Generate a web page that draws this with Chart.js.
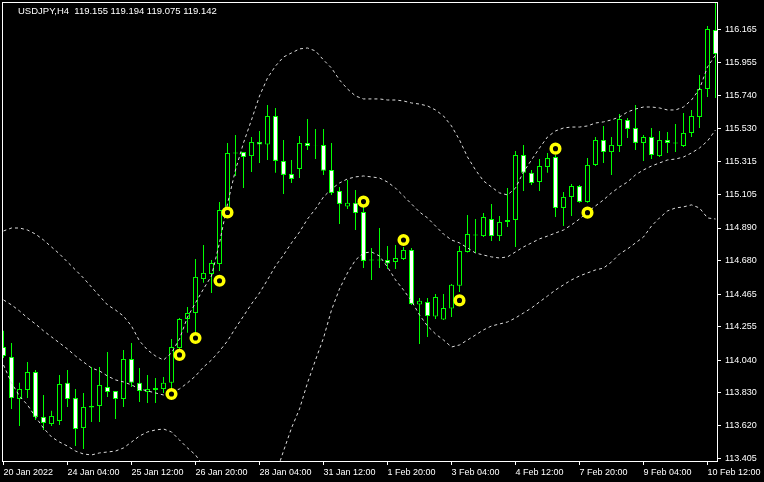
<!DOCTYPE html>
<html>
<head>
<meta charset="utf-8">
<script src="https://cdn.jsdelivr.net/npm/chart.js@4.4.0/dist/chart.umd.min.js"></script>
<style>
  html, body { margin: 0; padding: 0; background: #000; }
  #chart { display: block; }
</style>
</head>
<body>
<canvas id="chart" width="764" height="482"></canvas>
<script>
// header text and axis labels
const titleText = 'USDJPY,H4  119.155 119.194 119.075 119.142';
const xLabels = ['20 Jan 2022', '24 Jan 04:00', '25 Jan 12:00', '26 Jan 20:00', '28 Jan 04:00', '31 Jan 12:00',
    '1 Feb 20:00', '3 Feb 04:00', '4 Feb 12:00', '7 Feb 20:00', '9 Feb 04:00', '10 Feb 12:00'];
const xLabelBars = [0, 8, 16, 24, 32, 40, 48, 56, 64, 72, 80, 88];
const yTicks = [113.405, 113.620, 113.830, 114.040, 114.255, 114.465, 114.680, 114.890,
    115.105, 115.315, 115.530, 115.740, 115.955, 116.165];

// H4 candles, oldest first
const opens = [
    114.124, 114.060, 113.789, 113.847, 113.963, 113.674, 113.628, 113.648, 113.893, 113.795,
    113.602, 113.735, 113.744, 113.867, 113.841, 113.789, 114.047, 113.893, 113.834, 113.847,
    113.854, 113.893, 114.117, 114.304, 114.343, 114.562, 114.594, 114.658, 115.006, 115.369,
    115.379, 115.353, 115.444, 115.428, 115.611, 115.322, 115.238, 115.270, 115.438, 115.422,
    115.425, 115.264, 115.129, 115.029, 115.052, 114.993, 114.681, 114.681, 114.684, 114.671,
    114.691, 114.749, 114.398, 114.414, 114.320, 114.301, 114.372, 114.518, 114.736, 114.842,
    114.838, 114.948, 114.838, 114.929, 114.942, 115.360, 115.245, 115.186, 115.283, 115.347,
    115.019, 115.090, 115.160, 115.058, 115.296, 115.457, 115.379, 115.418, 115.586, 115.534,
    115.438, 115.476, 115.353, 115.457, 115.434, 115.418, 115.502, 115.605, 115.785, 116.165
];
const highs = [
    114.228, 114.150, 113.893, 114.027, 113.976, 113.815, 113.713, 113.944, 113.976, 113.854,
    113.828, 113.995, 113.995, 114.092, 113.841, 114.105, 114.150, 113.988, 113.944, 113.924,
    113.931, 114.176, 114.310, 114.382, 114.691, 114.781, 114.684, 115.058, 115.438, 115.489,
    115.380, 115.476, 115.515, 115.682, 115.662, 115.457, 115.328, 115.482, 115.592, 115.528,
    115.528, 115.438, 115.154, 115.199, 115.135, 115.026, 114.761, 114.890, 114.774, 114.781,
    114.768, 114.762, 114.439, 114.439, 114.465, 114.465, 114.530, 114.774, 114.974, 114.948,
    114.987, 115.045, 114.968, 115.147, 115.386, 115.425, 115.264, 115.334, 115.373, 115.360,
    115.122, 115.173, 115.167, 115.340, 115.476, 115.547, 115.476, 115.624, 115.598, 115.682,
    115.489, 115.534, 115.515, 115.508, 115.560, 115.631, 115.650, 115.875, 116.191, 116.345
];
const lows = [
    114.053, 113.725, 113.615, 113.795, 113.654, 113.590, 113.615, 113.622, 113.738, 113.486,
    113.467, 113.641, 113.641, 113.802, 113.661, 113.738, 113.867, 113.770, 113.764, 113.764,
    113.828, 113.854, 114.111, 114.215, 114.215, 114.537, 114.472, 114.614, 114.993, 115.225,
    115.147, 115.251, 115.309, 115.328, 115.245, 115.109, 115.180, 115.212, 115.392, 115.334,
    115.232, 115.103, 114.916, 115.013, 114.877, 114.632, 114.556, 114.632, 114.626, 114.626,
    114.684, 114.395, 114.143, 114.189, 114.304, 114.298, 114.317, 114.478, 114.733, 114.729,
    114.832, 114.807, 114.807, 114.897, 114.768, 115.129, 115.167, 115.129, 115.245, 114.961,
    114.903, 114.968, 115.052, 115.052, 115.289, 115.309, 115.232, 115.379, 115.470, 115.392,
    115.322, 115.334, 115.347, 115.373, 115.379, 115.412, 115.476, 115.534, 115.733, 115.727
];
const closes = [
    114.066, 113.795, 113.854, 113.963, 113.674, 113.635, 113.680, 113.886, 113.789, 113.596,
    113.738, 113.744, 113.880, 113.834, 113.789, 114.047, 113.893, 113.841, 113.854, 113.860,
    113.893, 114.124, 114.304, 114.343, 114.575, 114.601, 114.665, 115.006, 115.373, 115.376,
    115.347, 115.444, 115.428, 115.611, 115.322, 115.232, 115.206, 115.438, 115.418, 115.425,
    115.258, 115.116, 115.045, 115.052, 114.987, 114.678, 114.688, 114.688, 114.661, 114.697,
    114.749, 114.401, 114.421, 114.323, 114.446, 114.375, 114.524, 114.742, 114.851, 114.848,
    114.961, 114.838, 114.929, 114.942, 115.360, 115.245, 115.180, 115.289, 115.340, 115.019,
    115.090, 115.160, 115.058, 115.296, 115.457, 115.379, 115.425, 115.592, 115.528, 115.438,
    115.476, 115.360, 115.457, 115.438, 115.441, 115.502, 115.611, 115.785, 116.171, 116.010
];

// bollinger bands
const upperBand = [
    114.871, 114.890, 114.890, 114.877, 114.851, 114.813, 114.768, 114.723, 114.671, 114.620,
    114.568, 114.510, 114.452, 114.395, 114.362, 114.323, 114.259, 114.163, 114.105, 114.066,
    114.040, 114.086, 114.176, 114.317, 114.408, 114.498, 114.581, 114.794, 115.045, 115.264,
    115.438, 115.586, 115.740, 115.856, 115.933, 115.991, 116.017, 116.043, 116.049, 116.030,
    115.972, 115.920, 115.843, 115.785, 115.740, 115.721, 115.721, 115.721, 115.714, 115.714,
    115.708, 115.695, 115.688, 115.676, 115.650, 115.611, 115.547, 115.457, 115.347, 115.264,
    115.193, 115.154, 115.116, 115.103, 115.147, 115.251, 115.328, 115.405, 115.476, 115.515,
    115.534, 115.540, 115.540, 115.547, 115.566, 115.573, 115.586, 115.605, 115.637, 115.656,
    115.669, 115.669, 115.663, 115.650, 115.650, 115.669, 115.714, 115.785, 115.927, 116.004
];
const middleBand = [
    114.427, 114.395, 114.356, 114.311, 114.272, 114.228, 114.189, 114.150, 114.111, 114.066,
    114.027, 113.989, 113.970, 113.937, 113.912, 113.899, 113.880, 113.854, 113.841, 113.828,
    113.815, 113.834, 113.854, 113.893, 113.937, 113.995, 114.040, 114.098, 114.163, 114.246,
    114.323, 114.401, 114.472, 114.556, 114.646, 114.716, 114.794, 114.864, 114.948, 115.013,
    115.090, 115.141, 115.180, 115.206, 115.219, 115.225, 115.219, 115.212, 115.186, 115.147,
    115.096, 115.045, 114.993, 114.955, 114.903, 114.851, 114.813, 114.794, 114.762, 114.729,
    114.716, 114.704, 114.697, 114.704, 114.736, 114.768, 114.794, 114.820, 114.838, 114.858,
    114.877, 114.910, 114.948, 114.993, 115.032, 115.071, 115.116, 115.154, 115.186, 115.232,
    115.264, 115.289, 115.309, 115.328, 115.334, 115.347, 115.373, 115.405, 115.450, 115.521
];
const lowerBand = [
    114.008, 113.893, 113.808, 113.751, 113.674, 113.602, 113.545, 113.512, 113.486, 113.454,
    113.435, 113.429, 113.442, 113.448, 113.454, 113.474, 113.512, 113.551, 113.577, 113.590,
    113.596, 113.577, 113.525, 113.474, 113.429, 113.358, 113.306, 113.255, 113.203, 113.171,
    113.158, 113.165, 113.190, 113.242, 113.300, 113.454, 113.602, 113.725, 113.893, 114.040,
    114.182, 114.362, 114.498, 114.601, 114.684, 114.729, 114.736, 114.710, 114.639, 114.556,
    114.491, 114.421, 114.330, 114.259, 114.208, 114.169, 114.124, 114.137, 114.169, 114.201,
    114.234, 114.259, 114.272, 114.285, 114.311, 114.343, 114.375, 114.414, 114.452, 114.491,
    114.524, 114.556, 114.581, 114.601, 114.620, 114.632, 114.671, 114.723, 114.755, 114.794,
    114.832, 114.903, 114.955, 115.000, 115.019, 115.026, 115.039, 115.019, 114.955, 114.948
];

// yellow signal marks
const markerBars = [21, 22, 24, 27, 28, 45, 50, 57, 69, 73];
const markerPrices = [113.821, 114.073, 114.182, 114.550, 114.990, 115.060, 114.813, 114.424, 115.401, 114.989];

const bars = opens.map((o, i) => i);
const wickData = bars.map(i => ({ x: i, y: [lows[i], highs[i]] }));
const bodyData = bars.map(i => ({ x: i, y: [opens[i], closes[i]] }));
const bodyFill = bars.map(i => closes[i] >= opens[i] ? '#000000' : '#ffffff');
const band = arr => arr.map((v, i) => ({ x: i, y: v }));
const marks = markerBars.map((b, i) => ({ x: b, y: markerPrices[i] }));

const GREEN = '#00ff00';
const BAND = '#dcdcdc';

// black background, white frame and header line
const frame = {
    id: 'frame',
    beforeDraw(chart) {
        const ctx = chart.ctx;
        ctx.save();
        ctx.fillStyle = '#000';
        ctx.fillRect(0, 0, chart.width, chart.height);
        ctx.restore();
    },
    afterDraw(chart) {
        const { ctx, chartArea: a } = chart;
        ctx.save();
        ctx.strokeStyle = '#fff';
        ctx.lineWidth = 1;
        ctx.strokeRect(a.left + 0.5, a.top + 0.5, a.right - a.left, a.bottom - a.top);
        ctx.fillStyle = '#fff';
        ctx.font = '9.5px "Liberation Sans"';
        ctx.textBaseline = 'alphabetic';
        ctx.fillText(titleText, 18, 14);
        ctx.restore();
    }
};

Chart.defaults.font.family = '"Liberation Sans", Arial, sans-serif';
Chart.defaults.font.size = 9;
Chart.defaults.color = '#fff';

new Chart(document.getElementById('chart'), {
    type: 'bar',
    data: {
        datasets: [{
            type: 'scatter',
            data: marks,
            pointStyle: 'circle',
            pointRadius: 4.3,
            pointBorderWidth: 3.5,
            pointBorderColor: '#ffff00',
            pointBackgroundColor: '#000',
            order: 0
        }, {
            type: 'line',
            data: band(upperBand),
            borderColor: BAND,
            borderWidth: 1,
            borderDash: [3, 3],
            pointRadius: 0,
            order: 1
        }, {
            type: 'line',
            data: band(middleBand),
            borderColor: BAND,
            borderWidth: 1,
            borderDash: [3, 3],
            pointRadius: 0,
            order: 1
        }, {
            type: 'line',
            data: band(lowerBand),
            borderColor: BAND,
            borderWidth: 1,
            borderDash: [3, 3],
            pointRadius: 0,
            order: 1
        }, {
            data: bodyData,
            backgroundColor: bodyFill,
            borderColor: GREEN,
            borderWidth: 1,
            borderSkipped: false,
            barThickness: 5,
            inflateAmount: 0,
            grouped: false,
            order: 2
        }, {
            data: wickData,
            backgroundColor: GREEN,
            borderWidth: 0,
            barThickness: 1,
            inflateAmount: 0,
            grouped: false,
            order: 3
        }]
    },
    options: {
        responsive: false,
        animation: false,
        devicePixelRatio: 1,
        layout: { autoPadding: false, padding: { left: 2, top: 2, right: 0, bottom: 0 } },
        plugins: {
            legend: { display: false },
            tooltip: { enabled: false }
        },
        scales: {
            x: {
                type: 'linear',
                offset: false,
                min: -0.1875,
                max: 89.1875,
                afterFit: s => { s.height = 21; s.paddingLeft = 0; s.paddingRight = 0; },
                afterBuildTicks: s => { s.ticks = xLabelBars.map(v => ({ value: v })); },
                border: { display: false },
                grid: { offset: false, drawOnChartArea: false, drawTicks: true, tickLength: 4, color: '#fff' },
                ticks: {
                    autoSkip: false,
                    maxRotation: 0,
                    align: 'start',
                    padding: 2,
                    color: '#fff',
                    callback: v => xLabels[xLabelBars.indexOf(v)]
                }
            },
            y: {
                type: 'linear',
                position: 'right',
                min: 113.390,
                max: 116.345,
                afterFit: s => { s.width = 47; s.paddingTop = 0; s.paddingBottom = 0; },
                afterBuildTicks: s => { s.ticks = yTicks.map(v => ({ value: v })); },
                border: { display: false },
                grid: { drawOnChartArea: false, drawTicks: true, tickLength: 4, color: '#fff' },
                ticks: {
                    autoSkip: false,
                    padding: 4,
                    color: '#fff',
                    callback: v => v.toFixed(3)
                }
            }
        }
    },
    plugins: [frame]
});
</script>
</body>
</html>
